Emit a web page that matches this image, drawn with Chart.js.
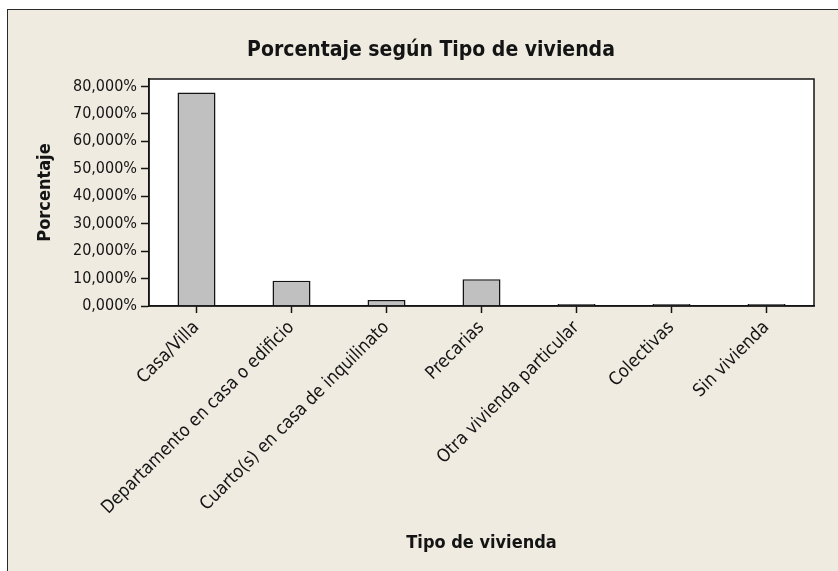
<!DOCTYPE html>
<html>
<head>
<meta charset="utf-8">
<script src="https://cdn.jsdelivr.net/npm/chart.js@4/dist/chart.umd.min.js"></script>
<style>
html, body { margin: 0; padding: 0; background: #ffffff; }
#wrap { width: 838px; height: 571px; }
</style>
</head>
<body>
<div id="wrap"><canvas id="chart" width="838" height="571"></canvas></div>
<script>
// ========================================
// Data
// ========================================

const categories = [
  "Casa/Villa",
  "Departamento en casa o edificio",
  "Cuarto(s) en casa de inquilinato",
  "Precarias",
  "Otra vivienda particular",
  "Colectivas",
  "Sin vivienda"
];

const porcentaje = [77.8, 9.2, 2.2, 9.7, 0.4, 0.7, 0.3];

const yTicks = [0, 10, 20, 30, 40, 50, 60, 70, 80];

// ========================================
// Style
// ========================================

const FONT = "'DejaVu Sans Condensed', 'DejaVu Sans', sans-serif";
const BEIGE = "#efebe1";
const INK = "#141414";

Chart.defaults.font.family = FONT;
Chart.defaults.color = INK;

// background panel, frame and white plot area
const framePlugin = {
  id: "frame",
  beforeDraw(chart) {
    const { ctx, width, height, chartArea: a } = chart;
    ctx.save();
    ctx.fillStyle = "#ffffff";
    ctx.fillRect(0, 0, width, height);
    ctx.fillStyle = BEIGE;
    ctx.fillRect(7.5, 9.5, width, height);
    ctx.strokeStyle = "#2a2a2a";
    ctx.lineWidth = 1;
    ctx.strokeRect(7.5, 9.5, width + 20, height + 20);
    ctx.fillStyle = "#ffffff";
    ctx.fillRect(a.left, a.top, a.right - a.left, a.bottom - a.top);
    ctx.restore();
  },
  afterDatasetsDraw(chart) {
    const { ctx, chartArea: a } = chart;
    ctx.save();
    ctx.strokeStyle = INK;
    ctx.lineWidth = 1.5;
    ctx.strokeRect(a.left, a.top, a.right - a.left, a.bottom - a.top);
    ctx.restore();
  }
};

// ========================================
// Chart
// ========================================

new Chart(
  document.getElementById("chart"),
  {
    type: "bar",
    data: {
      labels: categories,
      datasets: [{
        label: "Porcentaje",
        data: porcentaje,
        backgroundColor: "#c0c0c0",
        borderColor: INK,
        borderWidth: 1.5,
        borderSkipped: "bottom",
        minBarLength: 2,
        barPercentage: 0.4,
        categoryPercentage: 1
      }]
    },
    options: {
      responsive: false,
      animation: false,
      layout: { padding: { left: 48, right: 24, top: 0, bottom: 0 } },
      plugins: {
        legend: { display: false },
        tooltip: { enabled: false },
        title: {
          display: true,
          text: "Porcentaje según Tipo de vivienda",
          color: INK,
          font: { size: 21, weight: "bold", lineHeight: 1.2 },
          padding: { top: 38, bottom: 15.8 }
        }
      },
      scales: {
        x: {
          offset: true,
          grid: {
            offset: false,
            drawOnChartArea: false,
            drawTicks: true,
            tickLength: 7,
            tickWidth: 1.5,
            tickColor: INK
          },
          border: { display: true, color: INK, width: 1.5 },
          ticks: {
            autoSkip: false,
            minRotation: 45,
            maxRotation: 45,
            padding: 4,
            color: INK,
            font: { size: 18 }
          },
          title: {
            display: true,
            text: "Tipo de vivienda",
            color: INK,
            font: { size: 18, weight: "bold", lineHeight: 1.2 },
            padding: { top: 0, bottom: 17 }
          },
          afterFit(scale) { scale.height = 265; }
        },
        y: {
          min: 0,
          max: 82.7,
          afterBuildTicks(scale) {
            scale.ticks = yTicks.map(v => ({ value: v }));
          },
          grid: {
            drawOnChartArea: false,
            drawTicks: true,
            tickLength: 8,
            tickWidth: 1.5,
            tickColor: INK
          },
          border: { display: true, color: INK, width: 1.5 },
          ticks: {
            padding: 4,
            color: INK,
            font: { size: 16 },
            callback: v => v.toFixed(3).replace(".", ",") + "%"
          },
          title: {
            display: true,
            text: "Porcentaje",
            color: INK,
            font: { size: 18, weight: "bold", lineHeight: 1.2 },
            padding: { top: -13.3, bottom: 0 }
          },
          afterFit(scale) { scale.width = 101; }
        }
      }
    },
    plugins: [framePlugin]
  }
);
</script>
</body>
</html>
